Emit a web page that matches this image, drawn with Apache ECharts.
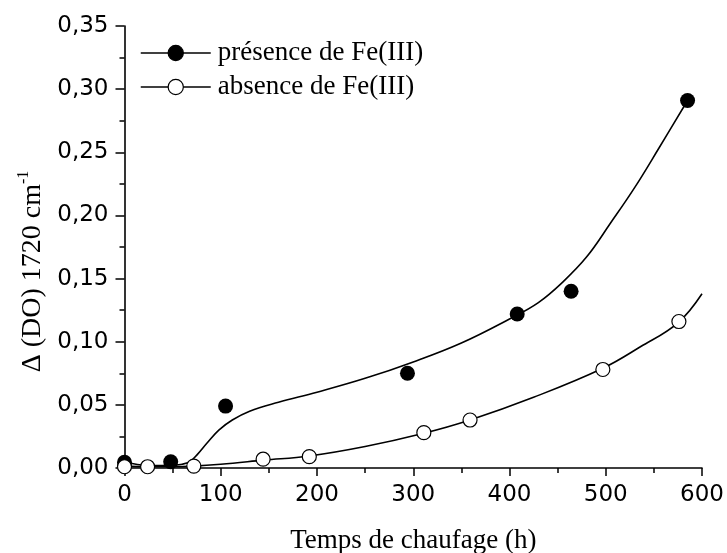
<!DOCTYPE html>
<html>
<head>
<meta charset="utf-8">
<script src="https://cdn.jsdelivr.net/npm/echarts@6/dist/echarts.min.js"></script>
<style>
  html, body { margin: 0; padding: 0; background: #fff; }
  #chart { width: 727px; height: 553px; }
</style>
</head>
<body>
<div id="chart"></div>
<script>
// ---- Data ----
const presenceName = 'présence de Fe(III)';
const absenceName = 'absence de Fe(III)';

// measured points, presence of Fe(III) (filled circles)
const presX = [0, 48, 105, 294, 408, 464, 585];
const presY = [0.0045, 0.005, 0.049, 0.075, 0.122, 0.140, 0.291];

// measured points, absence of Fe(III) (open circles)
const absX = [0, 24, 72, 144, 192, 311, 359, 497, 576];
const absY = [0.001, 0.001, 0.0015, 0.007, 0.009, 0.028, 0.038, 0.078, 0.116];

// fitted curve, presence
const presCurveX = [0, 12, 25, 45, 60, 68, 76, 86, 98, 112, 130, 160, 200, 250, 300, 350, 400, 430, 455, 480, 505, 530, 555, 585];
const presCurveY = [0.005, 0.003, 0.002, 0.002, 0.003, 0.005, 0.011, 0.020, 0.030, 0.038, 0.045, 0.052, 0.060, 0.071, 0.084, 0.099, 0.118, 0.131, 0.147, 0.167, 0.194, 0.222, 0.253, 0.291];

// fitted curve, absence
const absCurveX = [0, 24, 50, 72, 100, 145, 192, 250, 311, 359, 425, 497, 536, 575, 600];
const absCurveY = [0.0015, 0.001, 0.001, 0.0015, 0.003, 0.0062, 0.0095, 0.017, 0.0275, 0.038, 0.056, 0.079, 0.096, 0.115, 0.138];

// axes
const xMin = 0, xMax = 600, xStep = 100;
const yMin = 0, yMax = 0.35, yStep = 0.05;
const xTitle = 'Temps de chaufage (h)';
const yTitleMain = 'Δ (DO) 1720 cm';
const yTitleSup = '-1';

const zip = (xs, ys) => xs.map((x, i) => [x, ys[i]]);

const serif = '"Liberation Serif", "Times New Roman", serif';
const sans = '"DejaVu Sans", sans-serif';

const chart = echarts.init(document.getElementById('chart'), null, { renderer: 'canvas' });

chart.setOption({
  animation: false,
  backgroundColor: '#fff',
  grid: { left: 124.5, right: 25, top: 26, bottom: 85, containLabel: false, outerBoundsMode: 'none' },
  legend: {
    left: 140,
    top: 39.5,
    padding: 0,
    orient: 'vertical',
    itemWidth: 70,
    itemHeight: 19,
    itemGap: 7,
    data: [presenceName, absenceName],
    lineStyle: { color: '#000', width: 1.5, opacity: 1, type: 'solid' },
    itemStyle: { borderWidth: 1.2, borderColor: '#000' },
    textStyle: { fontFamily: serif, fontSize: 27, color: '#000', lineHeight: 19, padding: [0, 0, 0, 2] },
    selectedMode: false
  },
  xAxis: {
    type: 'value',
    min: xMin, max: xMax, interval: xStep,
    name: xTitle,
    nameLocation: 'middle',
    nameGap: 59,
    nameTextStyle: { fontFamily: serif, fontSize: 27, color: '#000', lineHeight: 27 },
    axisLine: { show: true, onZero: false, lineStyle: { color: '#000', width: 1.6 } },
    axisTick: { show: true, inside: false, length: 8, lineStyle: { color: '#000', width: 1.5 } },
    minorTick: { show: true, splitNumber: 2, length: 5, lineStyle: { color: '#000', width: 1.5 } },
    splitLine: { show: false },
    axisLabel: { fontFamily: sans, fontSize: 23, color: '#000', margin: 16, formatter: v => String(Math.round(v)) }
  },
  yAxis: {
    type: 'value',
    min: yMin, max: yMax, interval: yStep,
    name: '{m|' + yTitleMain + '}{s|' + yTitleSup + '}',
    nameLocation: 'middle',
    nameGap: 75,
    nameTextStyle: {
      color: '#000',
      padding: [0, 49, 0, 0],
      rich: {
        m: { fontFamily: serif, fontSize: 28, color: '#000', lineHeight: 34 },
        s: { fontFamily: serif, fontSize: 16, color: '#000', lineHeight: 16, verticalAlign: 'top' }
      }
    },
    axisLine: { show: true, onZero: false, lineStyle: { color: '#000', width: 1.6 } },
    axisTick: { show: true, inside: false, length: 9, lineStyle: { color: '#000', width: 1.5 } },
    minorTick: { show: true, splitNumber: 2, length: 5, lineStyle: { color: '#000', width: 1.5 } },
    splitLine: { show: false },
    axisLabel: { fontFamily: sans, fontSize: 23, color: '#000', margin: 16, formatter: v => v.toFixed(2).replace('.', ',') }
  },
  series: [
    {
      name: 'curve-presence',
      type: 'line',
      data: zip(presCurveX, presCurveY),
      symbol: 'none',
      smooth: 0.4,
      lineStyle: { color: '#000', width: 1.6 },
      z: 2,
      silent: true
    },
    {
      name: 'curve-absence',
      type: 'line',
      data: zip(absCurveX, absCurveY),
      symbol: 'none',
      smooth: 0.4,
      lineStyle: { color: '#000', width: 1.6 },
      z: 2,
      silent: true
    },
    {
      name: presenceName,
      type: 'line',
      data: zip(presX, presY),
      symbol: 'circle',
      symbolSize: 15,
      showAllSymbol: true,
      itemStyle: { color: '#000', borderColor: '#000', borderWidth: 0 },
      lineStyle: { width: 0, opacity: 0, color: '#000' },
      z: 5
    },
    {
      name: absenceName,
      type: 'line',
      data: zip(absX, absY),
      symbol: 'circle',
      symbolSize: 14,
      showAllSymbol: true,
      itemStyle: { color: '#fff', borderColor: '#000', borderWidth: 1.2 },
      lineStyle: { width: 0, opacity: 0, color: '#000' },
      z: 5
    }
  ]
});
</script>
</body>
</html>
